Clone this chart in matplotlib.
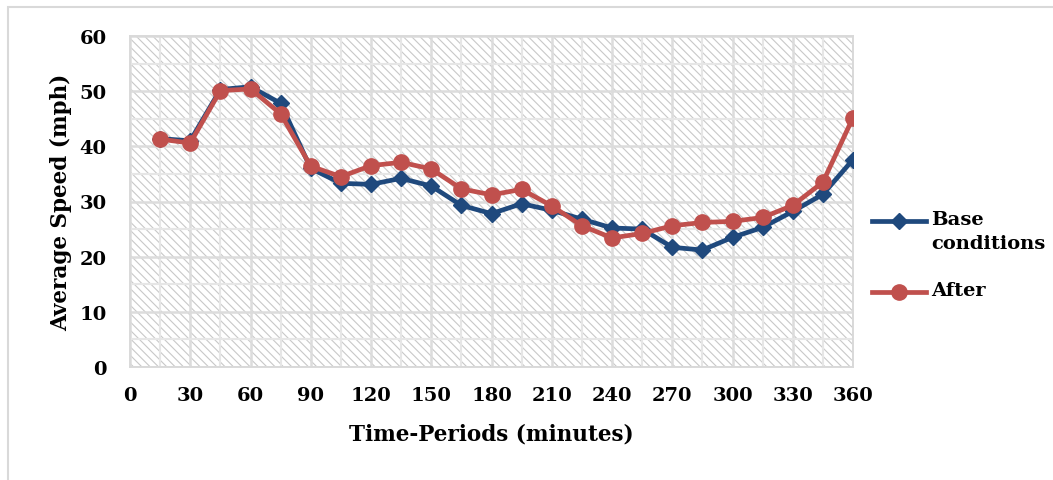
import matplotlib.pyplot as plt
from matplotlib.patches import Rectangle
from matplotlib.lines import Line2D

# time periods (minutes) and average speeds (mph)
minutes = [15, 30, 45, 60, 75, 90, 105, 120, 135, 150, 165, 180,
           195, 210, 225, 240, 255, 270, 285, 300, 315, 330, 345, 360]
base = [41.4, 41.0, 50.3, 50.8, 47.8, 36.0, 33.3, 33.1, 34.2, 32.8, 29.3, 27.8,
        29.6, 28.4, 26.8, 25.2, 25.0, 21.7, 21.2, 23.5, 25.3, 28.2, 31.3, 37.6]
after = [41.3, 40.6, 50.1, 50.4, 45.9, 36.4, 34.5, 36.5, 37.1, 35.9, 32.3, 31.2,
         32.2, 29.2, 25.6, 23.4, 24.2, 25.6, 26.2, 26.4, 27.1, 29.3, 33.5, 45.2]
series_names = ['Base\nconditions', 'After']

plt.rcParams['font.family'] = ['DejaVu Serif']
plt.rcParams['font.weight'] = 'bold'
plt.rcParams['axes.labelweight'] = 'bold'
plt.rcParams['hatch.linewidth'] = 0.8

W, H = 1053, 481
fig = plt.figure(figsize=(W / 100, H / 100), dpi=100)
ax = fig.add_axes([130 / W, 1 - 368 / H, 723 / W, 331 / H])

# chart frame (only left and top edges show in the image)
fig.patches.append(Rectangle((8 / W, -0.1), 1.2, 1 - 8 / H + 0.1,
                             transform=fig.transFigure, fill=False,
                             edgecolor='#d9d9d9', linewidth=1.5))

# hatched plot area
ax.add_patch(Rectangle((0, 0), 1, 1, transform=ax.transAxes, facecolor='white',
                       edgecolor='#c8c8c8', hatch='\\\\\\\\', linewidth=0, zorder=0))

blue, red = '#1f497d', '#c0504d'
ax.plot(minutes, base, color=blue, lw=3.4, marker='D', ms=8, zorder=3)
ax.plot(minutes, after, color=red, lw=3.4, marker='o', ms=11, zorder=4)

ax.set_xlim(0, 360)
ax.set_ylim(0, 60)
ax.set_xticks(range(0, 361, 30))
ax.set_xticks(range(15, 361, 30), minor=True)
ax.set_yticks(range(0, 61, 10))
ax.set_yticks(range(5, 61, 10), minor=True)
ax.grid(True, which='major', color='#dcdcdc', lw=1.8, zorder=1)
ax.grid(True, which='minor', color='#e6e6e6', lw=1.5, zorder=1)
ax.set_axisbelow(True)
ax.tick_params(which='both', length=0, labelsize=14)
ax.tick_params(axis='x', pad=14)
ax.tick_params(axis='y', pad=17)
for s in ax.spines.values():
    s.set_color('#d9d9d9')
    s.set_linewidth(1.4)

ax.set_xlabel('Time-Periods (minutes)', fontsize=15.5, labelpad=13)
ax.set_ylabel('Average Speed (mph)', fontsize=15.5, labelpad=5)

# legend to the right, handle level with the first line of each label
legend_y = [222, 293]
styles = [dict(color=blue, marker='D', ms=8), dict(color=red, marker='o', ms=11)]
for name, yy, st in zip(series_names, legend_y, styles):
    yf = 1 - yy / H
    fig.add_artist(Line2D([872 / W, 926 / W], [yf, yf], lw=3.4,
                          transform=fig.transFigure, color=st['color']))
    fig.add_artist(Line2D([899 / W], [yf], lw=0, marker=st['marker'], ms=st['ms'],
                          transform=fig.transFigure, color=st['color']))
    fig.text(931 / W, yf + 11 / H, name, fontsize=14, va='top', ha='left',
             linespacing=1.4, transform=fig.transFigure)

fig.savefig('out.png', dpi=100)
